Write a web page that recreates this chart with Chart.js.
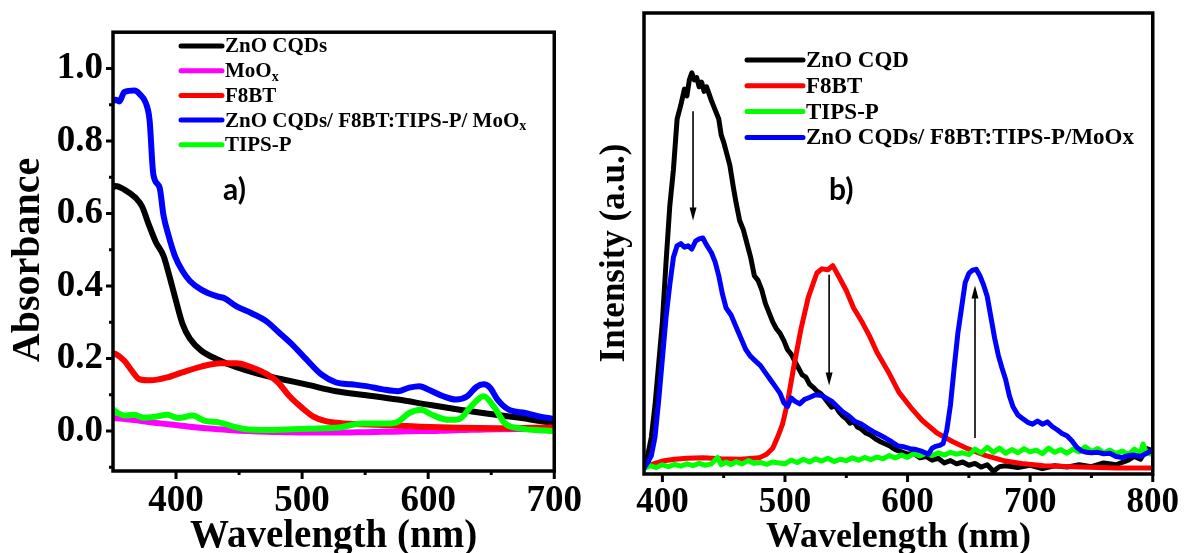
<!DOCTYPE html>
<html>
<head>
<meta charset="utf-8">
<script src="https://cdn.jsdelivr.net/npm/chart.js@4.4.0/dist/chart.umd.min.js"></script>
<style>
  body { margin: 0; background: #fff; }
  #wrap { position: relative; width: 1187px; height: 553px; overflow: hidden; }
  canvas { position: absolute; top: 0; }
</style>
</head>
<body>
<div id="wrap">
  <canvas id="absChart" width="590" height="553" style="left:0"></canvas>
  <canvas id="plChart" width="597" height="553" style="left:590px"></canvas>
</div>
<script>
// ---- (a) absorbance spectra ----
const zncqdAbsWl = [350, 352, 359, 368, 373, 378, 384, 390, 394, 399, 405, 411, 420, 432, 448, 466, 484, 503, 527, 551, 576, 600, 625, 649, 674, 700];
const zncqdAbs   = [0.672, 0.676, 0.666, 0.643, 0.62, 0.573, 0.521, 0.484, 0.437, 0.372, 0.297, 0.255, 0.222, 0.199, 0.176, 0.157, 0.143, 0.129, 0.11, 0.099, 0.087, 0.073, 0.059, 0.047, 0.036, 0.021];

const mooxAbsWl = [350, 365, 381, 396, 411, 426, 442, 457, 472, 487, 503, 518, 533, 549, 564, 579, 594, 610, 625, 640, 655, 674, 700];
const mooxAbs   = [0.036, 0.031, 0.024, 0.018, 0.012, 0.007, 0.003, 0.0, -0.002, -0.003, -0.004, -0.004, -0.004, -0.003, -0.002, -0.001, 0.0, 0.001, 0.003, 0.004, 0.005, 0.006, 0.007];

const f8btAbsWl = [350, 352, 359, 365, 371, 380, 393, 405, 420, 435, 448, 460, 472, 481, 490, 500, 509, 518, 533, 564, 594, 625, 655, 700];
const f8btAbs   = [0.215, 0.213, 0.194, 0.166, 0.143, 0.14, 0.148, 0.162, 0.178, 0.187, 0.187, 0.176, 0.157, 0.134, 0.096, 0.064, 0.04, 0.028, 0.021, 0.017, 0.012, 0.009, 0.008, 0.01];

const stackAbsWl = [350, 352, 355, 359, 367, 371, 376, 379, 382, 387, 390, 394, 399, 405, 411, 420, 432, 438, 448, 460, 472, 481, 493, 503, 515, 527, 539, 551, 564, 576, 585, 593, 600, 612, 622, 631, 638, 644, 649, 655, 664, 677, 689, 700];
const stackAbs   = [0.91, 0.914, 0.909, 0.935, 0.939, 0.93, 0.905, 0.858, 0.708, 0.671, 0.596, 0.54, 0.484, 0.442, 0.414, 0.39, 0.372, 0.367, 0.344, 0.325, 0.302, 0.274, 0.236, 0.199, 0.157, 0.134, 0.129, 0.124, 0.115, 0.11, 0.12, 0.124, 0.115, 0.096, 0.087, 0.096, 0.121, 0.129, 0.12, 0.087, 0.059, 0.05, 0.04, 0.034];

const tipsAbsWl = [350, 352, 359, 367, 374, 384, 393, 402, 413, 423, 434, 439, 454, 472, 497, 527, 548, 567, 576, 585, 594, 603, 616, 625, 634, 644, 652, 661, 674, 686, 700];
const tipsAbs   = [0.06, 0.054, 0.043, 0.045, 0.037, 0.04, 0.045, 0.036, 0.043, 0.028, 0.024, 0.019, 0.006, 0.003, 0.006, 0.009, 0.021, 0.021, 0.026, 0.05, 0.059, 0.045, 0.031, 0.034, 0.068, 0.096, 0.068, 0.021, 0.007, 0.003, 0.0];

const absLabels = ['ZnO CQDs', 'MoO_x', 'F8BT', 'ZnO CQDs/ F8BT:TIPS-P/ MoO_x', 'TIPS-P'];
const absColors = ['#000000', '#ff00ff', '#ff0000', '#0000ff', '#00ff00'];
const absYTicks = [0.0, 0.2, 0.4, 0.6, 0.8, 1.0];

// ---- (b) photoluminescence spectra ----
const zncqdPlWl = [385, 388, 391, 394, 397, 400, 403, 406, 409, 412, 415, 418, 420, 422, 424, 426, 428, 430, 432, 434, 436, 438, 440, 443, 446, 448, 450, 452, 455, 458, 460, 463, 466, 469, 472, 475, 478, 481, 484, 487, 490, 493, 496, 499, 502, 505, 508, 511, 514, 517, 520, 523, 526, 529, 532, 535, 538, 541, 544, 547, 550, 553, 556, 559, 562, 566, 570, 574, 578, 582, 586, 590, 595, 600, 605, 610, 615, 620, 625, 630, 635, 640, 645, 650, 655, 660, 665, 670, 675, 680, 690, 700, 710, 720, 730, 740, 750, 760, 770, 780, 785, 790, 795, 800];
const zncqdPl   = [1.3, 4, 8, 15, 24, 33, 46, 58, 66, 77, 80, 83.5, 82, 85.5, 87, 85.5, 86, 84, 85, 83, 84, 82.5, 81, 79, 77, 73.5, 72, 70, 67, 62, 59, 55, 53, 50, 47, 43, 42, 40, 37, 35, 33, 31.5, 30.5, 29, 27, 26, 24.5, 23, 21.5, 21, 19.5, 18.8, 18, 17.5, 16.6, 15.5, 14.5, 14.8, 13.5, 12.6, 12.0, 11.0, 11.4, 10.2, 9.8, 8.9, 8.4, 7.6, 7.0, 6.5, 6.0, 5.3, 4.8, 4.3, 4.5, 3.5, 3.8, 3.0, 3.4, 2.4, 2.9, 2.2, 2.6, 1.9, 2.3, 1.5, 2.0, 0.6, 1.6, 1.8, 1.4, 1.9, 1.2, 1.8, 1.5, 2.0, 1.6, 2.4, 2.0, 3.0, 3.8, 3.2, 5.5, 5.0];

const f8btPlWl = [385, 390, 400, 410, 420, 433, 448, 464, 479, 485, 490, 494, 498, 502, 507, 513, 519, 526, 530, 535, 539, 544, 550, 556, 563, 569, 575, 584, 593, 603, 612, 624, 637, 649, 664, 680, 695, 711, 741, 770, 800];
const f8btPl   = [1.2, 2.0, 2.8, 3.2, 3.4, 3.5, 3.3, 3.2, 3.5, 4.3, 5.6, 8.0, 10.8, 15.4, 23, 31.4, 38.3, 43.6, 44.5, 44.3, 45.2, 42.8, 39.8, 36, 32.9, 29.9, 26.4, 22.3, 17.7, 14.3, 11.6, 8.9, 7.0, 5.5, 4.0, 2.8, 2.2, 1.8, 1.5, 1.3, 1.3];

const tipsPlWl = [385, 390, 395, 400, 405, 410, 415, 420, 425, 430, 435, 440, 445, 448, 452, 456, 460, 465, 470, 475, 480, 485, 490, 495, 500, 505, 510, 515, 520, 525, 530, 535, 540, 545, 550, 555, 560, 565, 570, 575, 580, 585, 590, 595, 600, 605, 610, 615, 620, 625, 630, 635, 640, 645, 650, 655, 660, 665, 670, 675, 680, 685, 690, 695, 700, 705, 710, 715, 720, 725, 730, 735, 740, 745, 750, 755, 760, 765, 770, 775, 780, 785, 790, 792, 795, 800];
const tipsPl   = [1.2, 1.8, 1.4, 2.0, 1.6, 2.1, 1.7, 2.2, 1.8, 2.3, 1.9, 2.2, 3.6, 2.0, 2.6, 2.0, 2.7, 2.2, 2.9, 2.3, 2.5, 2.1, 2.6, 2.4, 2.2, 3.0, 2.5, 3.2, 2.6, 3.3, 2.8, 3.4, 2.7, 3.2, 2.9, 3.5, 3.0, 3.6, 3.1, 3.7, 3.3, 4.0, 3.5, 4.1, 3.6, 4.4, 3.9, 4.5, 4.0, 4.6, 4.1, 4.7, 4.3, 4.6, 4.2, 5.4, 4.6, 5.8, 4.7, 5.6, 4.5, 5.3, 4.6, 5.5, 4.8, 5.2, 4.4, 5.6, 4.7, 5.3, 4.5, 5.4, 4.8, 5.9, 4.9, 5.5, 4.6, 5.2, 4.4, 5.0, 4.2, 5.4, 4.5, 6.5, 4.6, 4.2];

const stackPlWl = [385, 388, 391, 394, 397, 400, 403, 406, 409, 412, 415, 418, 421, 424, 427, 430, 433, 436, 440, 443, 446, 449, 452, 456, 460, 464, 468, 472, 476, 480, 484, 488, 492, 496, 499, 502, 505, 508, 512, 516, 520, 525, 530, 534, 538, 542, 547, 552, 557, 562, 567, 572, 577, 582, 587, 592, 597, 602, 607, 612, 617, 620, 623, 626, 629, 632, 635, 638, 641, 644, 647, 650, 653, 656, 659, 662, 665, 668, 671, 674, 677, 680, 683, 686, 690, 694, 698, 702, 706, 710, 714, 718, 722, 726, 730, 734, 738, 742, 746, 750, 755, 760, 765, 770, 775, 780, 785, 790, 795, 800];
const stackPl   = [1.3, 2.5, 4, 8, 16, 25, 34, 41, 47, 49.5, 50, 49.2, 49.5, 48.8, 50.5, 51, 51.2, 49.7, 48, 46, 43, 39, 36, 34.5, 32, 29.5, 27, 25.5, 24.5, 23.5, 22, 20.5, 19, 17.5, 15.5, 14.6, 16.5, 15.8, 15.2, 16.2, 16.6, 17.2, 17.0, 16.4, 15.8, 14.8, 13.5, 12.6, 11.4, 10.9, 10.0, 9.2, 8.5, 7.8, 7.0, 6.1, 5.9, 5.5, 5.3, 4.9, 4.3, 5.6, 6.0, 6.2, 6.6, 9.5, 15, 23, 30.5, 36, 41.5, 43.5, 44.2, 44.4, 43, 41, 38.5, 34, 29.5, 25.8, 23, 20.5, 17, 14.6, 12.8, 12.0, 11.2, 10.8, 11.5, 10.8, 11.3, 10.3, 9.6, 8.8, 8.3, 7.2, 5.8, 5.0, 4.7, 4.6, 4.7, 4.4, 4.5, 3.8, 3.6, 4.0, 4.1, 3.8, 4.5, 5.2];

const plLabels = ['ZnO CQD', 'F8BT', 'TIPS-P', 'ZnO CQDs/ F8BT:TIPS-P/MoOx'];
const plColors = ['#000000', '#ff0000', '#00ff00', '#0000ff'];

// arrows marking quenching / enhancement
const arrowWl   = [425, 536, 655];
const arrowFrom = [78.7, 43.2, 7.8];
const arrowTo   = [55, 19.2, 40.9];

const SERIF = '"Liberation Serif", "Times New Roman", serif';
Chart.defaults.color = '#000';

const pts = (xs, ys) => xs.map((x, i) => ({x, y: ys[i]}));

// box around the plot area plus outward tick marks
const framePlugin = {
  id: 'frame',
  afterDatasetsDraw(chart, args, opts) {
    const {ctx, chartArea: a, scales: {x, y}} = chart;
    ctx.save();
    ctx.strokeStyle = '#000';
    ctx.lineWidth = 3.5;
    ctx.strokeRect(a.left, a.top, a.right - a.left, a.bottom - a.top);
    ctx.lineWidth = 3;
    ctx.beginPath();
    x.ticks.forEach(t => {
      const px = x.getPixelForValue(t.value);
      ctx.moveTo(px, a.bottom); ctx.lineTo(px, a.bottom + 8);
    });
    (opts.xMinor || []).forEach(v => {
      const px = x.getPixelForValue(v);
      ctx.moveTo(px, a.bottom); ctx.lineTo(px, a.bottom + 4);
    });
    if (opts.yTicks) {
      y.ticks.forEach(t => {
        const py = y.getPixelForValue(t.value);
        ctx.moveTo(a.left, py); ctx.lineTo(a.left - 7, py);
      });
      (opts.yMinor || []).forEach(v => {
        const py = y.getPixelForValue(v);
        ctx.moveTo(a.left, py); ctx.lineTo(a.left - 4, py);
      });
    }
    ctx.stroke();
    ctx.restore();
  }
};

function drawLegend(ctx, labels, colors, o) {
  ctx.save();
  ctx.textBaseline = 'middle';
  ctx.lineCap = 'round';
  labels.forEach((lab, i) => {
    const y = o.y + i * o.step;
    ctx.strokeStyle = colors[i];
    ctx.lineWidth = o.lw;
    ctx.beginPath();
    ctx.moveTo(o.x, y);
    ctx.lineTo(o.x + o.len, y);
    ctx.stroke();
    const [main, sub] = lab.split('_');
    ctx.fillStyle = '#000';
    ctx.font = `bold ${o.size}px ${SERIF}`;
    let tx = o.x + o.len + o.gap;
    ctx.fillText(main, tx, y + 1);
    if (sub) {
      tx += ctx.measureText(main).width;
      ctx.font = `bold ${Math.round(o.size * 0.65)}px ${SERIF}`;
      ctx.fillText(sub, tx, y + o.size * 0.32);
    }
  });
  ctx.restore();
}

// vertical axis caption, reading bottom to top
function drawYTitle(ctx, text, x, y, size) {
  ctx.save();
  ctx.translate(x, y);
  ctx.rotate(-Math.PI / 2);
  ctx.font = `bold ${size}px ${SERIF}`;
  ctx.textAlign = 'center';
  ctx.textBaseline = 'middle';
  ctx.fillStyle = '#000';
  ctx.fillText(text, 0, 0);
  ctx.restore();
}

function drawArrow(ctx, x, y1, y2) {
  const dir = y2 > y1 ? 1 : -1;
  ctx.save();
  ctx.strokeStyle = '#000';
  ctx.fillStyle = '#000';
  ctx.lineWidth = 1.6;
  ctx.beginPath();
  ctx.moveTo(x, y1);
  ctx.lineTo(x, y2 - dir * 10);
  ctx.stroke();
  ctx.beginPath();
  ctx.moveTo(x, y2);
  ctx.lineTo(x - 3.5, y2 - dir * 13);
  ctx.lineTo(x + 3.5, y2 - dir * 13);
  ctx.closePath();
  ctx.fill();
  ctx.restore();
}

const absOverlay = {
  id: 'absOverlay',
  afterDraw(chart) {
    const ctx = chart.ctx;
    drawYTitle(ctx, 'Absorbance', 29, 260, 40);
    drawLegend(ctx, absLabels, absColors, {x: 181, y: 46, step: 24.7, len: 41, gap: 3, lw: 5, size: 21});
    ctx.save();
    ctx.font = 'bold 30px Lato, "Open Sans", sans-serif';
    ctx.textBaseline = 'middle';
    ctx.fillText('a)', 223, 190);
    ctx.restore();
  }
};

const plOverlay = {
  id: 'plOverlay',
  afterDraw(chart) {
    const {ctx, scales: {x, y}} = chart;
    drawYTitle(ctx, 'Intensity (a.u.)', 25, 253, 35);
    drawLegend(ctx, plLabels, plColors, {x: 157, y: 60, step: 25.8, len: 56, gap: 3, lw: 5, size: 23});
    arrowWl.forEach((wl, i) => {
      drawArrow(ctx, x.getPixelForValue(wl), y.getPixelForValue(arrowFrom[i]), y.getPixelForValue(arrowTo[i]));
    });
    ctx.save();
    ctx.font = 'bold 30px Lato, "Open Sans", sans-serif';
    ctx.textBaseline = 'middle';
    ctx.fillText('b)', 239, 190);
    ctx.restore();
  }
};

function lineSet(label, color, xs, ys, width, smooth) {
  return {
    label, data: pts(xs, ys),
    borderColor: color, backgroundColor: color,
    borderWidth: width, pointRadius: 0,
    borderCapStyle: 'round', borderJoinStyle: 'round',
    cubicInterpolationMode: smooth ? 'monotone' : 'default',
    tension: 0
  };
}

// (a) absorbance
const absSets = [
  lineSet(absLabels[0], absColors[0], zncqdAbsWl, zncqdAbs, 6, true),
  lineSet(absLabels[1], absColors[1], mooxAbsWl, mooxAbs, 6, true),
  lineSet(absLabels[2], absColors[2], f8btAbsWl, f8btAbs, 6, true),
  lineSet(absLabels[3], absColors[3], stackAbsWl, stackAbs, 6, true),
  lineSet(absLabels[4], absColors[4], tipsAbsWl, tipsAbs, 6, true)
];
// later legend entries sit on top
absSets.forEach((d, i) => { d.order = absSets.length - i; });

new Chart(document.getElementById('absChart'), {
  type: 'line',
  data: {datasets: absSets},
  options: {
    responsive: false, animation: false, devicePixelRatio: 1,
    layout: {padding: {top: 14, right: 34, left: 0, bottom: 0}},
    plugins: {legend: {display: false}, tooltip: {enabled: false},
      frame: {yTicks: true, xMinor: [450, 550, 650], yMinor: [-0.1, 0.1, 0.3, 0.5, 0.7, 0.9]}},
    scales: {
      x: {
        type: 'linear', min: 350, max: 700,
        grid: {display: false, drawTicks: false}, border: {display: false},
        ticks: {stepSize: 100, includeBounds: false, autoSkip: false, maxRotation: 0, padding: 8,
          font: {family: SERIF, size: 37, weight: 'bold'}},
        title: {display: true, text: 'Wavelength (nm)', padding: 0,
          font: {family: SERIF, size: 39, weight: 'bold', lineHeight: 0.8}},
        afterFit(s) { s.height = 82; }
      },
      y: {
        type: 'linear', min: -0.11, max: 1.1,
        grid: {display: false, drawTicks: false}, border: {display: false},
        afterBuildTicks(s) { s.ticks = absYTicks.map(v => ({value: v})); },
        ticks: {padding: 10, callback: v => v.toFixed(1),
          font: {family: SERIF, size: 37, weight: 'bold'}},
        afterFit(s) { s.width = 113; }
      }
    }
  },
  plugins: [framePlugin, absOverlay]
});

// (b) photoluminescence
const plSets = [
  lineSet(plLabels[0], plColors[0], zncqdPlWl, zncqdPl, 5, false),
  lineSet(plLabels[1], plColors[1], f8btPlWl, f8btPl, 5, false),
  lineSet(plLabels[2], plColors[2], tipsPlWl, tipsPl, 5, false),
  lineSet(plLabels[3], plColors[3], stackPlWl, stackPl, 5, false)
];
plSets.forEach((d, i) => { d.order = plSets.length - i; });

new Chart(document.getElementById('plChart'), {
  type: 'line',
  data: {datasets: plSets},
  options: {
    responsive: false, animation: false, devicePixelRatio: 1,
    layout: {padding: {top: 13, right: 30, left: 0, bottom: 0}},
    plugins: {legend: {display: false}, tooltip: {enabled: false},
      frame: {yTicks: false, xMinor: [450, 550, 650, 750]}},
    scales: {
      x: {
        type: 'linear', min: 385, max: 800,
        grid: {display: false, drawTicks: false}, border: {display: false},
        ticks: {stepSize: 100, includeBounds: false, autoSkip: false, maxRotation: 0, padding: 8,
          font: {family: SERIF, size: 35, weight: 'bold'}},
        title: {display: true, text: 'Wavelength (nm)', padding: 0,
          font: {family: SERIF, size: 36, weight: 'bold', lineHeight: 0.85}},
        afterFit(s) { s.height = 79; }
      },
      y: {
        type: 'linear', min: 0, max: 100,
        grid: {display: false, drawTicks: false}, border: {display: false},
        ticks: {display: false},
        afterFit(s) { s.width = 54; }
      }
    }
  },
  plugins: [framePlugin, plOverlay]
});
</script>
</body>
</html>
